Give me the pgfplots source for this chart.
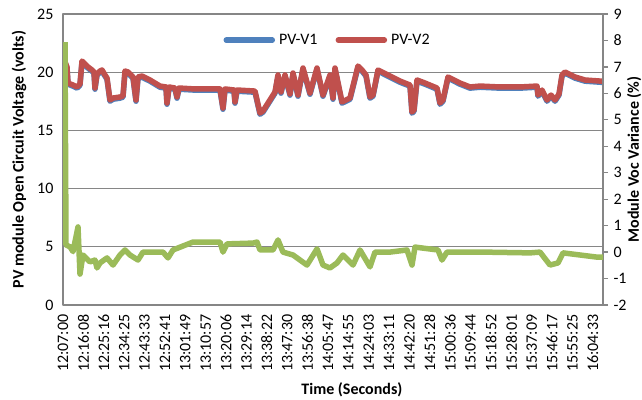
\documentclass[border=0pt]{standalone}
\usepackage{fontspec}
\setmainfont{Carlito}
\usepackage{pgfplots}
\usepackage{pgfplotstable}
\pgfplotsset{compat=1.18}
\definecolor{xblue}{HTML}{4F81BD}
\definecolor{xred}{HTML}{C0504D}
\definecolor{xgreen}{HTML}{9BBB59}
\definecolor{xgray}{HTML}{868686}

\pgfplotstableread{
x v1 v2
2 20.78 20.88
4 20.35 20.45
5 18.97 19.07
10 18.80 18.90
14 18.63 18.73
17 18.89 18.99
19 20.86 20.96
22 20.60 20.70
25 20.35 20.45
29 20.09 20.19
31 19.92 20.02
32 18.54 18.64
34 19.75 19.85
37 20.00 20.10
39 20.09 20.19
42 19.66 19.76
44 19.40 19.50
47 17.51 17.61
50 17.68 17.78
57 17.77 17.87
60 17.86 17.96
62 20.00 20.10
65 19.92 20.02
70 19.49 19.59
73 17.51 17.61
75 19.49 19.59
79 19.57 19.67
87 19.23 19.33
97 18.71 18.81
103 18.63 18.73
104 17.25 17.35
106 18.63 18.73
112 18.54 18.64
114 17.77 17.87
116 18.54 18.64
132 18.46 18.56
157 18.46 18.56
160 16.82 16.92
162 18.46 18.56
171 18.37 18.47
172 17.34 17.44
174 18.37 18.47
192 18.28 18.38
197 16.39 16.49
200 16.57 16.67
212 18.20 18.30
215 19.66 19.76
218 18.20 18.30
222 19.66 19.76
227 18.03 18.13
230 19.83 19.93
235 17.94 18.04
240 20.26 20.36
247 18.11 18.21
254 20.26 20.36
260 17.94 18.04
267 19.66 19.76
270 17.68 17.78
272 20.26 20.36
279 17.34 17.44
287 17.68 17.78
295 20.43 20.53
299 20.09 20.19
303 19.66 19.76
307 17.77 17.87
310 17.94 18.04
315 20.09 20.19
327 19.57 19.67
337 19.14 19.24
347 18.80 18.90
349 16.48 16.58
351 16.65 16.75
354 19.23 19.33
362 18.97 19.07
374 18.54 18.64
377 17.25 17.35
380 17.51 17.61
385 19.49 19.59
397 18.97 19.07
407 18.63 18.73
417 18.71 18.81
437 18.63 18.73
457 18.63 18.73
474 18.71 18.81
475 17.94 18.04
479 18.37 18.47
484 17.51 17.61
488 17.94 18.04
492 17.51 17.61
496 18.03 18.13
499 19.66 19.76
502 19.92 20.02
512 19.49 19.59
522 19.23 19.33
537 19.14 19.24
540 19.12 19.22
}\pvdata

\pgfplotstableread{
x p
2 7.94
3 0.27
7 0.20
10 0.02
15 0.95
17 -0.83
20 -0.11
27 -0.37
32 -0.30
34 -0.60
37 -0.41
44 -0.22
50 -0.49
57 -0.11
62 0.08
67 -0.11
75 -0.30
80 0.00
100 0.00
105 -0.22
110 0.08
130 0.38
157 0.38
160 0.00
164 0.31
190 0.34
194 0.38
197 0.08
210 0.08
215 0.46
220 0.00
230 -0.11
244 -0.49
254 0.12
260 -0.49
267 -0.60
274 -0.41
280 -0.11
290 -0.49
297 0.08
307 -0.56
312 0.00
327 0.00
344 0.08
349 -0.49
352 0.19
360 0.15
375 0.08
379 -0.30
384 0.00
420 0.00
467 -0.03
477 0.00
487 -0.49
495 -0.41
500 -0.03
534 -0.19
540 -0.19
}\vardata

\begin{document}
\fontsize{16}{19}\selectfont
\begin{tikzpicture}
\begin{axis}[name=ax,
  scale only axis, width=540pt, height=291pt,
  xmin=0, xmax=540, ymin=0, ymax=25,
  ytick={0,5,...,25},
  xtick={0,20.38,...,530},
  xticklabels={12:07:00,12:16:08,12:25:16,12:34:25,12:43:33,12:52:41,13:01:49,13:10:57,13:20:06,13:29:14,13:38:22,13:47:30,13:56:38,14:05:47,14:14:55,14:24:03,14:33:11,14:42:20,14:51:28,15:00:36,15:09:44,15:18:52,15:28:01,15:37:09,15:46:17,15:55:25,16:04:33},
  xticklabel style={rotate=90, anchor=east, xshift=-4pt},
  yticklabel style={xshift=-4pt},
  /pgf/number format/assume math mode=true,
  major tick length=0pt,
  xtick pos=bottom, ytick pos=left,
  ymajorgrids,
  major grid style={xgray, line width=1.3pt},
  axis line style={xgray, line width=1.3pt},
  tick label style={font=\fontsize{16}{19}\selectfont},
  label style={font=\bfseries\fontsize{16}{19}\selectfont},
  ylabel={PV module Open Circuit Voltage (volts)},
  xlabel={Time (Seconds)},
  xlabel style={at={(ticklabel cs:0.535)}},
  legend style={at={(0.49,0.91)}, anchor=center, draw=none, fill=none,
    legend columns=2, font=\fontsize{16}{19}\selectfont,
    /tikz/every odd column/.append style={column sep=2pt},
    /tikz/every even column/.append style={column sep=16pt}},
  legend image code/.code={\draw[#1, line cap=round] (0pt,0pt) -- (46pt,0pt);},
  line join=round,
]
\addplot[xblue, line width=5.5pt, line join=round] table[x=x, y=v1]{\pvdata};
\addlegendentry{PV-V1}
\addplot[xred, line width=5.5pt, line join=round] table[x=x, y=v2]{\pvdata};
\addlegendentry{PV-V2}
\end{axis}
\begin{axis}[
  scale only axis, width=540pt, height=291pt,
  xmin=0, xmax=540, ymin=-2, ymax=9,
  ytick={-2,-1,...,9},
  axis y line*=right, axis x line=none,
  /pgf/number format/assume math mode=true,
  tick align=outside, major tick length=5pt,
  every tick/.style={xgray, line width=1.3pt},
  axis line style={xgray, line width=1.3pt},
  tick label style={font=\fontsize{16}{19}\selectfont},
  ylabel={Module Voc Variance (\%)},
  ylabel style={font=\bfseries\fontsize{16}{19}\selectfont,
    at={(axis description cs:1.0713,0.5)}, anchor=south, inner sep=0pt},
]
\addplot[xgreen, line width=5.5pt, line join=round] table[x=x, y=p]{\vardata};
\end{axis}
\pgfresetboundingbox
\path ([shift={(-63pt,14pt)}]ax.north west) rectangle ([shift={(39pt,-94pt)}]ax.south east);
\end{tikzpicture}
\end{document}
